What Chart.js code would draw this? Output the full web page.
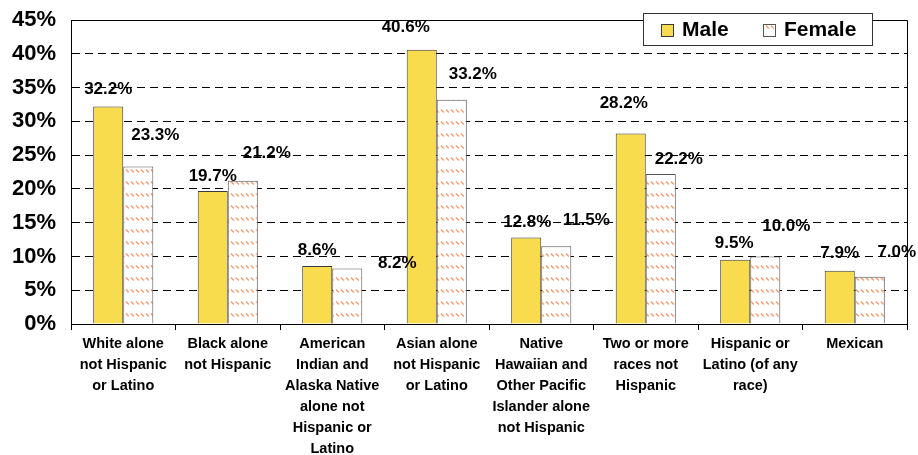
<!DOCTYPE html>
<html>
<head>
<meta charset="utf-8">
<script src="https://cdn.jsdelivr.net/npm/chart.js@4.4.1/dist/chart.umd.min.js"></script>
<style>
  html, body { margin: 0; padding: 0; background: #fff; }
  #wrap { width: 918px; height: 455px; }
</style>
</head>
<body>
<div id="wrap"><canvas id="myChart"></canvas></div>
<script>
const categories = [
    ['White alone', 'not Hispanic', 'or Latino'],
    ['Black alone', 'not Hispanic'],
    ['American', 'Indian and', 'Alaska Native', 'alone not', 'Hispanic or', 'Latino'],
    ['Asian alone', 'not Hispanic', 'or Latino'],
    ['Native', 'Hawaiian and', 'Other Pacific', 'Islander alone', 'not Hispanic'],
    ['Two or more', 'races not', 'Hispanic'],
    ['Hispanic or', 'Latino (of any', 'race)'],
    ['Mexican']
];
const maleValues = [32.2, 19.7, 8.6, 40.6, 12.8, 28.2, 9.5, 7.9];
const femaleValues = [23.3, 21.2, 8.2, 33.2, 11.5, 22.2, 10.0, 7.0];
const seriesNames = ['Male', 'Female'];
const yMax = 45;
const yStep = 5;

// where each value label sits, relative to the top centre of its bar
const maleLabelNudge = [[0, -17], [0, -15], [0, -16], [-16, -22], [1, -15], [-7, -30], [-1, -17], [0, -17]];
const femaleLabelNudge = [[17, -31], [24, -27], [50, -5], [21, -25], [30, -26], [18, -15], [21, -30], [27, -24]];

const FONT = "'Liberation Sans', Arial, sans-serif";
const ctx = document.getElementById('myChart').getContext('2d');

// white fill with short salmon diagonal strokes
function hatchPattern() {
    const tile = document.createElement('canvas');
    tile.width = 5;
    tile.height = 12;
    const c = tile.getContext('2d');
    c.fillStyle = '#fff';
    c.fillRect(0, 0, 5, 12);
    c.strokeStyle = 'rgba(244,140,92,0.9)';
    c.lineWidth = 1.3;
    c.beginPath();
    c.moveTo(1, 1.5);
    c.lineTo(3.8, 4.5);
    c.stroke();
    return ctx.createPattern(tile, 'repeat');
}
const hatch = hatchPattern();

// solid top and right edges of the plot box
const framePlugin = {
    id: 'frame',
    afterDatasetsDraw(chart) {
        const a = chart.chartArea;
        const c = chart.ctx;
        c.save();
        c.strokeStyle = '#000';
        c.lineWidth = 1;
        c.beginPath();
        c.moveTo(Math.round(a.left) + 0.5, Math.round(a.top) + 0.5);
        c.lineTo(Math.round(a.right) + 0.5, Math.round(a.top) + 0.5);
        c.lineTo(Math.round(a.right) + 0.5, Math.round(a.bottom) + 6);
        c.stroke();
        c.restore();
    }
};

// value labels above the bars
const barValuesPlugin = {
    id: 'barValues',
    afterDatasetsDraw(chart, args, opts) {
        const c = chart.ctx;
        c.save();
        c.font = 'bold 17px ' + FONT;
        c.fillStyle = '#000';
        c.textAlign = 'center';
        c.textBaseline = 'middle';
        chart.data.datasets.forEach((ds, di) => {
            const meta = chart.getDatasetMeta(di);
            meta.data.forEach((bar, i) => {
                const n = opts.nudges[di][i];
                c.fillText(ds.data[i].toFixed(1) + '%', bar.x + n[0], bar.y + n[1]);
            });
        });
        c.restore();
    }
};

// boxed legend in the upper right corner
const legendBoxPlugin = {
    id: 'legendBox',
    afterDraw(chart) {
        const c = chart.ctx;
        const x = 643, y = 13, w = 229, h = 32;
        c.save();
        c.fillStyle = '#fff';
        c.fillRect(x, y, w, h);
        c.strokeStyle = '#333';
        c.lineWidth = 1;
        c.strokeRect(x + 0.5, y + 0.5, w, h);
        c.font = 'bold 21px ' + FONT;
        c.textBaseline = 'middle';
        const swatchX = [661, 763];
        chart.data.datasets.forEach((ds, di) => {
            const sx = swatchX[di];
            c.fillStyle = ds.backgroundColor;
            c.fillRect(sx, 24, 12, 12);
            c.strokeStyle = ds.borderColor;
            c.strokeRect(sx + 0.5, 24.5, 12, 12);
            c.fillStyle = '#000';
            c.fillText(ds.label, sx + 21, 30);
        });
        c.restore();
    }
};

new Chart(ctx, {
    type: 'bar',
    data: {
        labels: categories,
        datasets: [{
            label: seriesNames[0],
            data: maleValues,
            backgroundColor: '#F9DC4E',
            borderColor: '#3a3a3a',
            borderWidth: 1,
            categoryPercentage: 0.575,
            barPercentage: 1.0
        }, {
            label: seriesNames[1],
            data: femaleValues,
            backgroundColor: hatch,
            borderColor: '#555',
            borderWidth: 1,
            categoryPercentage: 0.575,
            barPercentage: 1.0
        }]
    },
    options: {
        responsive: true,
        maintainAspectRatio: false,
        animation: false,
        layout: { padding: { top: 20, right: 11, left: 0, bottom: 0 } },
        plugins: {
            legend: { display: false },
            tooltip: { enabled: false },
            barValues: { nudges: [maleLabelNudge, femaleLabelNudge] }
        },
        scales: {
            x: {
                grid: {
                    offset: true,
                    drawOnChartArea: false,
                    drawTicks: true,
                    tickLength: 6,
                    color: '#000'
                },
                border: { display: true, color: '#000', width: 1 },
                ticks: {
                    color: '#000',
                    font: { family: FONT, size: 14.5, weight: 'bold', lineHeight: 1.45 },
                    padding: 3,
                    maxRotation: 0,
                    autoSkip: false
                },
                afterFit(scale) {
                    scale.height = 131;
                    scale.paddingLeft = scale.paddingRight = 0;
                    scale.paddingTop = scale.paddingBottom = 0;
                }
            },
            y: {
                min: 0,
                max: yMax,
                grid: {
                    color: '#000',
                    drawTicks: false
                },
                border: { display: true, color: '#000', width: 1, dash: [8, 5] },
                ticks: {
                    stepSize: yStep,
                    color: '#000',
                    font: { family: FONT, size: 22, weight: 'bold' },
                    padding: 15,
                    callback: (v) => v + '%'
                },
                afterFit(scale) {
                    scale.width = 71;
                    scale.paddingTop = scale.paddingBottom = 0;
                    scale.paddingLeft = scale.paddingRight = 0;
                }
            }
        }
    },
    plugins: [framePlugin, barValuesPlugin, legendBoxPlugin]
});
</script>
</body>
</html>
